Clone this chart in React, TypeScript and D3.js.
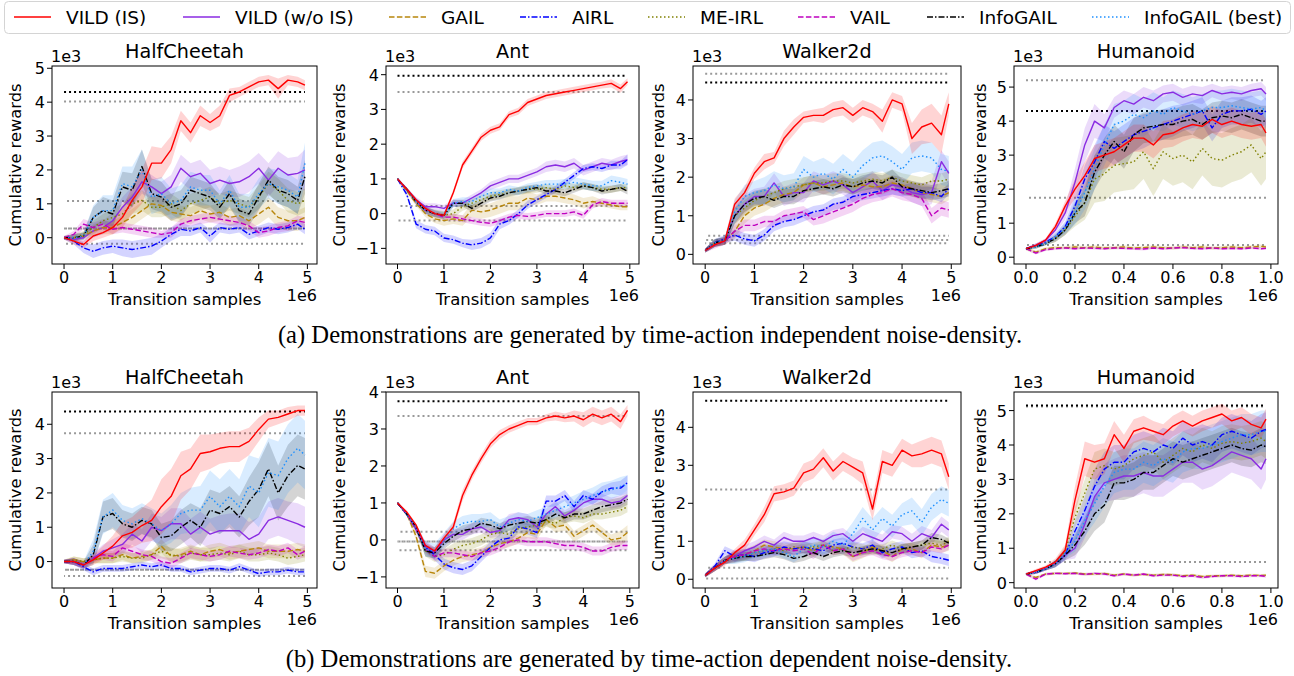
import React from 'react';
import * as d3 from 'd3';

// legend order
const METHODS = ['VILD (IS)', 'VILD (w/o IS)', 'GAIL', 'AIRL', 'ME-IRL', 'VAIL', 'InfoGAIL', 'InfoGAIL (best)'];
const COLORS = ['#ff0000', '#8a2be2', '#b8860b', '#0000ff', '#808000', '#bf00bf', '#000000', '#1e90ff'];
const DASHES = ['', '', '5.5,2.4', '6,2,1.5,2', '1.5,2.5', '5.5,2.4', '6,2,1.5,2', '1.5,2.5'];

const ENVS = ['HalfCheetah', 'Ant', 'Walker2d', 'Humanoid'];

// transition samples (x1e6)
const SAMPLES_5M = [0, 0.2, 0.4, 0.6, 0.8, 1.0, 1.2, 1.4, 1.6, 1.8, 2.0, 2.2, 2.4, 2.6, 2.8, 3.0, 3.2, 3.4, 3.6, 3.8, 4.0, 4.2, 4.4, 4.6, 4.8, 4.95];
const SAMPLES_1M = [0, 0.04, 0.08, 0.12, 0.16, 0.2, 0.24, 0.28, 0.32, 0.36, 0.4, 0.44, 0.48, 0.52, 0.56, 0.6, 0.64, 0.68, 0.72, 0.76, 0.8, 0.84, 0.88, 0.92, 0.96, 0.98];

// ---------- (a) time-action independent noise ----------
const HC_A_MEAN = [
  [0, -0.1, -0.2, 0.05, 0.15, 0.3, 0.6, 1.1, 1.5, 2.2, 2.2, 2.6, 3.45, 3.1, 3.6, 3.4, 3.6, 4.2, 4.3, 4.45, 4.6, 4.65, 4.4, 4.65, 4.6, 4.5],
  [0, -0.05, 0.0, 0.2, 0.3, 0.5, 0.9, 1.2, 1.65, 1.5, 1.3, 1.5, 2.05, 1.8, 1.9, 1.6, 1.7, 1.6, 1.65, 1.8, 2.05, 1.7, 2.05, 1.85, 1.9, 2.0],
  [0, 0.0, 0.05, 0.2, 0.3, 0.3, 0.45, 0.6, 0.8, 1.0, 0.95, 0.75, 0.7, 0.65, 0.8, 0.7, 0.75, 0.6, 0.65, 0.5, 0.7, 0.9, 0.6, 0.5, 0.5, 0.6],
  [0, -0.1, -0.3, -0.4, -0.3, -0.25, -0.3, -0.35, -0.3, -0.25, -0.1, 0.1, 0.25, 0.2, 0.3, 0.05, 0.3, 0.25, 0.3, 0.1, 0.2, 0.3, 0.25, 0.3, 0.4, 0.25],
  [0, 0.0, 0.1, 0.3, 0.5, 0.6, 0.7, 1.0, 1.1, 0.9, 0.9, 1.0, 0.8, 1.0, 1.1, 1.2, 1.0, 1.1, 1.0, 0.9, 1.2, 1.6, 1.4, 1.1, 1.0, 1.1],
  [0, 0.1, 0.4, 0.3, 0.4, 0.25, 0.3, 0.25, 0.2, 0.15, 0.1, 0.15, 0.4, 0.5, 0.55, 0.6, 0.55, 0.5, 0.45, 0.35, 0.15, 0.2, 0.3, 0.35, 0.5, 0.45],
  [0, 0.0, 0.05, 0.6, 0.8, 0.7, 1.5, 1.4, 2.1, 1.3, 1.2, 0.9, 1.0, 1.4, 1.3, 1.2, 0.9, 1.3, 0.8, 0.7, 1.2, 1.7, 1.4, 1.3, 1.1, 1.8],
  [0, 0.0, 0.05, 0.6, 0.8, 0.8, 1.6, 1.5, 2.0, 1.2, 1.3, 1.0, 1.1, 1.5, 1.4, 1.4, 1.0, 1.4, 0.9, 0.9, 1.3, 1.6, 1.5, 1.4, 1.2, 2.2],
];
const HC_A_STD = [
  [0.05, 0.1, 0.1, 0.15, 0.15, 0.2, 0.3, 0.4, 0.5, 0.5, 0.45, 0.4, 0.3, 0.3, 0.3, 0.25, 0.3, 0.2, 0.15, 0.15, 0.15, 0.15, 0.3, 0.15, 0.15, 0.15],
  [0.05, 0.1, 0.15, 0.2, 0.2, 0.25, 0.3, 0.3, 0.35, 0.35, 0.35, 0.35, 0.4, 0.4, 0.4, 0.4, 0.4, 0.4, 0.45, 0.45, 0.45, 0.5, 0.5, 0.5, 0.5, 0.6],
  [0.05, 0.1, 0.1, 0.15, 0.2, 0.2, 0.2, 0.25, 0.25, 0.25, 0.25, 0.25, 0.25, 0.25, 0.25, 0.25, 0.25, 0.25, 0.25, 0.25, 0.3, 0.3, 0.3, 0.3, 0.3, 0.3],
  [0.05, 0.1, 0.15, 0.2, 0.2, 0.2, 0.25, 0.25, 0.25, 0.25, 0.2, 0.2, 0.2, 0.15, 0.15, 0.2, 0.15, 0.15, 0.15, 0.15, 0.15, 0.15, 0.15, 0.15, 0.15, 0.15],
  [0.05, 0.1, 0.1, 0.2, 0.2, 0.25, 0.3, 0.3, 0.3, 0.3, 0.3, 0.3, 0.3, 0.3, 0.3, 0.3, 0.3, 0.3, 0.3, 0.3, 0.35, 0.35, 0.35, 0.35, 0.35, 0.35],
  [0.05, 0.1, 0.15, 0.15, 0.15, 0.15, 0.15, 0.15, 0.15, 0.15, 0.1, 0.15, 0.15, 0.15, 0.15, 0.15, 0.15, 0.15, 0.15, 0.15, 0.15, 0.15, 0.15, 0.15, 0.15, 0.15],
  [0.05, 0.1, 0.1, 0.3, 0.4, 0.4, 0.45, 0.5, 0.5, 0.45, 0.45, 0.4, 0.4, 0.4, 0.4, 0.4, 0.35, 0.4, 0.35, 0.35, 0.4, 0.4, 0.4, 0.4, 0.4, 0.5],
  [0.05, 0.1, 0.1, 0.35, 0.45, 0.45, 0.5, 0.6, 0.6, 0.5, 0.5, 0.45, 0.45, 0.45, 0.45, 0.45, 0.4, 0.45, 0.4, 0.4, 0.45, 0.45, 0.5, 0.5, 0.5, 0.6],
];

const ANT_A_MEAN = [
  [1.0, 0.7, 0.4, 0.15, 0.0, -0.05, 0.6, 1.4, 1.8, 2.2, 2.4, 2.5, 2.85, 2.95, 3.2, 3.3, 3.4, 3.45, 3.5, 3.55, 3.6, 3.65, 3.7, 3.75, 3.6, 3.8],
  [1.0, 0.7, 0.4, 0.2, 0.2, 0.15, 0.3, 0.3, 0.45, 0.6, 0.8, 0.9, 1.0, 1.0, 1.1, 1.2, 1.35, 1.4, 1.35, 1.45, 1.25, 1.35, 1.45, 1.4, 1.5, 1.55],
  [1.0, 0.65, 0.3, 0.0, -0.15, -0.2, -0.15, -0.2, 0.1, 0.05, 0.1, 0.2, 0.3, 0.3, 0.45, 0.4, 0.5, 0.5, 0.45, 0.4, 0.3, 0.35, 0.3, 0.25, 0.2, 0.2],
  [1.0, 0.55, -0.3, -0.45, -0.5, -0.7, -0.75, -0.85, -0.9, -0.85, -0.7, -0.3, -0.2, 0.0, 0.25, 0.4, 0.55, 0.7, 0.9, 1.1, 1.3, 1.35, 1.3, 1.4, 1.4, 1.55],
  [1.0, 0.7, 0.35, 0.1, 0.0, -0.05, 0.0, 0.2, 0.3, 0.4, 0.5, 0.55, 0.6, 0.65, 0.7, 0.7, 0.75, 0.7, 0.8, 0.75, 0.8, 0.75, 0.7, 0.7, 0.75, 0.75],
  [1.0, 0.7, 0.35, 0.1, 0.0, -0.1, -0.1, -0.15, -0.2, -0.25, -0.28, -0.2, -0.1, -0.05, -0.08, -0.05, 0.0, 0.0, 0.0, 0.05, -0.05, 0.25, 0.35, 0.3, 0.3, 0.3],
  [1.0, 0.7, 0.35, 0.1, 0.0, -0.05, 0.3, 0.3, 0.15, 0.3, 0.45, 0.5, 0.6, 0.65, 0.7, 0.75, 0.65, 0.65, 0.6, 0.7, 0.8, 0.75, 0.65, 0.7, 0.75, 0.65],
  [1.0, 0.7, 0.35, 0.1, 0.0, -0.05, 0.3, 0.35, 0.35, 0.5, 0.6, 0.6, 0.7, 0.65, 0.75, 0.8, 0.85, 0.85, 0.85, 0.9, 0.85, 0.8, 0.8, 0.95, 0.9, 0.85],
];
const ANT_A_STD = [
  [0.03, 0.05, 0.05, 0.05, 0.05, 0.05, 0.08, 0.1, 0.1, 0.1, 0.1, 0.1, 0.1, 0.1, 0.1, 0.1, 0.1, 0.1, 0.1, 0.1, 0.1, 0.1, 0.1, 0.12, 0.12, 0.1],
  [0.03, 0.05, 0.08, 0.1, 0.1, 0.1, 0.1, 0.1, 0.1, 0.1, 0.12, 0.12, 0.12, 0.12, 0.12, 0.12, 0.15, 0.15, 0.15, 0.15, 0.15, 0.15, 0.15, 0.15, 0.15, 0.15],
  [0.03, 0.05, 0.08, 0.1, 0.12, 0.15, 0.15, 0.15, 0.2, 0.2, 0.2, 0.2, 0.2, 0.2, 0.2, 0.15, 0.15, 0.15, 0.15, 0.15, 0.15, 0.15, 0.1, 0.1, 0.1, 0.1],
  [0.03, 0.08, 0.12, 0.12, 0.12, 0.12, 0.12, 0.12, 0.15, 0.15, 0.15, 0.15, 0.12, 0.12, 0.12, 0.1, 0.1, 0.1, 0.1, 0.1, 0.1, 0.1, 0.1, 0.12, 0.12, 0.15],
  [0.03, 0.05, 0.08, 0.1, 0.12, 0.12, 0.12, 0.12, 0.12, 0.12, 0.12, 0.12, 0.12, 0.12, 0.12, 0.1, 0.1, 0.1, 0.1, 0.1, 0.1, 0.1, 0.1, 0.1, 0.1, 0.1],
  [0.03, 0.05, 0.08, 0.1, 0.1, 0.1, 0.1, 0.1, 0.1, 0.1, 0.1, 0.1, 0.1, 0.1, 0.1, 0.1, 0.1, 0.1, 0.1, 0.1, 0.1, 0.1, 0.1, 0.1, 0.1, 0.1],
  [0.03, 0.05, 0.08, 0.1, 0.1, 0.1, 0.1, 0.1, 0.1, 0.1, 0.1, 0.1, 0.1, 0.1, 0.1, 0.1, 0.1, 0.1, 0.1, 0.1, 0.1, 0.1, 0.1, 0.1, 0.1, 0.1],
  [0.03, 0.05, 0.08, 0.1, 0.1, 0.1, 0.12, 0.12, 0.12, 0.12, 0.12, 0.12, 0.12, 0.12, 0.12, 0.12, 0.12, 0.12, 0.15, 0.15, 0.15, 0.15, 0.15, 0.15, 0.15, 0.15],
];

const WALK_A_MEAN = [
  [0.1, 0.25, 0.35, 1.3, 1.6, 2.1, 2.4, 2.5, 3.0, 3.3, 3.55, 3.6, 3.6, 3.75, 3.8, 3.6, 3.8, 3.7, 3.45, 4.0, 3.9, 3.0, 3.3, 3.4, 3.1, 3.9],
  [0.1, 0.3, 0.35, 1.0, 1.3, 1.5, 1.5, 1.85, 1.5, 1.6, 1.6, 1.9, 1.8, 1.9, 1.8, 1.6, 1.75, 1.9, 1.65, 1.8, 1.75, 1.6, 1.55, 1.6, 2.4, 2.1],
  [0.1, 0.3, 0.35, 0.6, 1.0, 1.2, 1.3, 1.45, 1.55, 1.6, 1.8, 1.85, 1.75, 1.8, 1.85, 1.75, 1.8, 1.75, 1.75, 1.85, 1.8, 1.7, 1.6, 1.55, 1.5, 1.6],
  [0.1, 0.3, 0.4, 0.5, 0.4, 0.35, 0.5, 0.75, 0.85, 0.9, 1.0, 1.1, 1.15, 1.3, 1.35, 1.5, 1.55, 1.6, 1.65, 1.7, 1.65, 1.7, 1.6, 1.6, 1.5, 1.7],
  [0.1, 0.3, 0.35, 1.0, 1.2, 1.4, 1.5, 1.6, 1.7, 1.75, 1.8, 1.85, 1.85, 1.9, 1.9, 1.85, 1.9, 1.95, 1.9, 2.0, 1.9, 1.85, 1.8, 1.9, 1.9, 1.95],
  [0.1, 0.25, 0.35, 0.6, 0.75, 0.75, 0.85, 0.85, 1.0, 1.05, 1.1, 0.9, 1.0, 1.1, 1.2, 1.3, 1.45, 1.55, 1.6, 1.7, 1.6, 1.55, 1.45, 1.0, 1.2, 1.15],
  [0.1, 0.3, 0.35, 1.0, 1.3, 1.45, 1.5, 1.4, 1.5, 1.5, 1.65, 1.7, 1.75, 1.7, 1.8, 1.75, 1.85, 1.9, 1.85, 2.0, 1.75, 1.7, 1.65, 1.6, 1.65, 1.7],
  [0.1, 0.3, 0.35, 1.1, 1.5, 1.6, 1.65, 1.8, 1.7, 1.75, 2.2, 2.0, 2.1, 1.95, 2.2, 2.0, 2.3, 2.5, 2.55, 2.4, 2.2, 2.5, 2.55, 2.5, 2.2, 2.15],
];
const WALK_A_STD = [
  [0.05, 0.05, 0.1, 0.15, 0.15, 0.15, 0.2, 0.15, 0.2, 0.2, 0.15, 0.15, 0.2, 0.2, 0.2, 0.2, 0.2, 0.2, 0.3, 0.2, 0.2, 0.4, 0.45, 0.5, 0.5, 0.3],
  [0.05, 0.1, 0.1, 0.25, 0.25, 0.2, 0.25, 0.25, 0.25, 0.25, 0.25, 0.25, 0.25, 0.25, 0.25, 0.25, 0.25, 0.25, 0.25, 0.25, 0.25, 0.25, 0.3, 0.3, 0.3, 0.3],
  [0.05, 0.1, 0.1, 0.2, 0.2, 0.2, 0.2, 0.2, 0.2, 0.2, 0.2, 0.2, 0.2, 0.2, 0.2, 0.2, 0.2, 0.2, 0.2, 0.2, 0.2, 0.2, 0.2, 0.2, 0.2, 0.2],
  [0.05, 0.1, 0.1, 0.15, 0.15, 0.15, 0.15, 0.15, 0.15, 0.15, 0.15, 0.15, 0.15, 0.15, 0.15, 0.15, 0.15, 0.15, 0.15, 0.15, 0.15, 0.15, 0.15, 0.15, 0.15, 0.15],
  [0.05, 0.1, 0.1, 0.2, 0.2, 0.2, 0.2, 0.2, 0.2, 0.2, 0.2, 0.2, 0.2, 0.2, 0.2, 0.2, 0.2, 0.2, 0.2, 0.2, 0.2, 0.2, 0.2, 0.2, 0.2, 0.2],
  [0.05, 0.1, 0.1, 0.15, 0.15, 0.15, 0.15, 0.15, 0.15, 0.15, 0.15, 0.15, 0.2, 0.2, 0.2, 0.2, 0.2, 0.2, 0.2, 0.2, 0.2, 0.2, 0.2, 0.2, 0.2, 0.2],
  [0.05, 0.1, 0.1, 0.2, 0.2, 0.2, 0.2, 0.2, 0.2, 0.2, 0.2, 0.2, 0.2, 0.2, 0.2, 0.2, 0.2, 0.2, 0.2, 0.2, 0.2, 0.2, 0.2, 0.2, 0.2, 0.2],
  [0.05, 0.1, 0.1, 0.3, 0.3, 0.3, 0.35, 0.35, 0.35, 0.35, 0.35, 0.4, 0.4, 0.4, 0.4, 0.4, 0.4, 0.4, 0.4, 0.4, 0.4, 0.4, 0.4, 0.4, 0.4, 0.4],
];

const HUM_A_MEAN = [
  [0.25, 0.35, 0.5, 0.9, 1.5, 2.0, 2.4, 2.9, 3.0, 3.1, 3.3, 3.5, 3.5, 3.3, 3.6, 3.65, 3.8, 3.9, 3.85, 4.05, 3.9, 4.0, 3.9, 3.85, 3.9, 3.65],
  [0.25, 0.35, 0.5, 0.8, 1.3, 2.2, 3.3, 4.0, 3.8, 4.4, 4.6, 4.5, 4.7, 4.6, 4.8, 4.85, 4.7, 4.8, 4.75, 4.9, 4.8, 4.85, 4.8, 4.9, 4.95, 4.8],
  [0.25, 0.15, 0.25, 0.28, 0.28, 0.3, 0.28, 0.3, 0.27, 0.28, 0.3, 0.27, 0.28, 0.3, 0.28, 0.27, 0.3, 0.28, 0.3, 0.27, 0.28, 0.3, 0.28, 0.3, 0.32, 0.3],
  [0.25, 0.35, 0.45, 0.6, 0.9, 1.5, 2.3, 2.8, 3.4, 3.2, 3.4, 3.6, 3.7, 3.8, 3.9, 4.0, 4.1, 4.2, 4.3, 3.8, 4.2, 4.3, 4.3, 4.35, 4.2, 4.3],
  [0.25, 0.3, 0.4, 0.55, 0.8, 1.2, 1.6, 2.3, 2.45, 2.7, 2.75, 2.8, 3.1, 2.6, 3.1, 2.9, 3.0, 2.8, 3.2, 2.9, 2.85, 3.0, 3.1, 3.3, 2.9, 3.1],
  [0.25, 0.12, 0.22, 0.25, 0.27, 0.25, 0.27, 0.26, 0.25, 0.27, 0.26, 0.25, 0.24, 0.27, 0.25, 0.27, 0.28, 0.26, 0.25, 0.27, 0.25, 0.26, 0.25, 0.27, 0.25, 0.26],
  [0.25, 0.3, 0.4, 0.55, 0.8, 1.3, 1.6, 2.5, 3.0, 3.4, 3.1, 3.6, 3.8, 3.85, 3.9, 3.9, 4.0, 4.05, 3.9, 4.1, 4.15, 4.1, 4.2, 4.1, 4.0, 4.0],
  [0.25, 0.3, 0.4, 0.6, 0.85, 1.3, 1.9, 2.6, 3.3, 3.9, 4.0, 4.2, 4.1, 4.3, 4.2, 4.4, 4.3, 4.2, 4.3, 4.4, 4.4, 4.45, 4.4, 4.35, 4.4, 4.3],
];
const HUM_A_STD = [
  [0.03, 0.05, 0.05, 0.1, 0.15, 0.3, 0.4, 0.4, 0.4, 0.4, 0.4, 0.4, 0.4, 0.4, 0.4, 0.4, 0.4, 0.4, 0.4, 0.4, 0.4, 0.4, 0.4, 0.4, 0.4, 0.4],
  [0.03, 0.05, 0.05, 0.1, 0.2, 0.4, 0.5, 0.5, 0.4, 0.3, 0.3, 0.3, 0.3, 0.3, 0.25, 0.25, 0.25, 0.25, 0.25, 0.2, 0.2, 0.2, 0.2, 0.2, 0.2, 0.2],
  [0.05, 0.05, 0.05, 0.05, 0.05, 0.05, 0.05, 0.05, 0.05, 0.05, 0.05, 0.05, 0.05, 0.05, 0.05, 0.05, 0.05, 0.05, 0.05, 0.05, 0.05, 0.05, 0.05, 0.05, 0.05, 0.05],
  [0.03, 0.05, 0.05, 0.1, 0.15, 0.3, 0.4, 0.5, 0.5, 0.5, 0.5, 0.5, 0.5, 0.45, 0.45, 0.45, 0.4, 0.4, 0.4, 0.4, 0.4, 0.4, 0.4, 0.4, 0.4, 0.4],
  [0.03, 0.05, 0.05, 0.1, 0.15, 0.3, 0.5, 0.7, 0.8, 0.8, 0.8, 0.8, 0.8, 0.8, 0.8, 0.8, 0.8, 0.8, 0.8, 0.8, 0.8, 0.8, 0.8, 0.8, 0.8, 0.8],
  [0.04, 0.04, 0.04, 0.04, 0.04, 0.04, 0.04, 0.04, 0.04, 0.04, 0.04, 0.04, 0.04, 0.04, 0.04, 0.04, 0.04, 0.04, 0.04, 0.04, 0.04, 0.04, 0.04, 0.04, 0.04, 0.04],
  [0.03, 0.05, 0.05, 0.1, 0.15, 0.3, 0.4, 0.5, 0.5, 0.5, 0.5, 0.5, 0.45, 0.45, 0.45, 0.45, 0.45, 0.45, 0.45, 0.45, 0.45, 0.45, 0.45, 0.45, 0.45, 0.45],
  [0.03, 0.05, 0.05, 0.1, 0.15, 0.35, 0.5, 0.6, 0.6, 0.6, 0.6, 0.6, 0.55, 0.55, 0.5, 0.5, 0.5, 0.5, 0.5, 0.5, 0.5, 0.5, 0.5, 0.5, 0.5, 0.5],
];

// ---------- (b) time-action dependent noise ----------
const HC_B_MEAN = [
  [0, 0.0, -0.1, 0.05, 0.25, 0.45, 0.75, 0.85, 1.05, 1.2, 1.6, 1.9, 2.5, 2.7, 3.15, 3.2, 3.3, 3.35, 3.35, 3.5, 3.85, 4.15, 4.2, 4.3, 4.4, 4.4],
  [0, 0.0, -0.1, 0.1, 0.3, 0.4, 0.5, 0.8, 0.6, 1.0, 0.9, 1.1, 1.1, 0.8, 1.0, 0.8, 0.9, 0.9, 0.9, 0.65, 0.8, 1.2, 1.3, 1.2, 1.1, 1.0],
  [0, 0.05, 0.0, 0.05, 0.1, 0.1, 0.2, 0.1, 0.15, 0.2, 0.45, 0.15, 0.2, 0.3, 0.2, 0.3, 0.35, 0.25, 0.3, 0.35, 0.4, 0.3, 0.3, 0.3, 0.35, 0.3],
  [0, 0.0, -0.15, -0.3, -0.2, -0.2, -0.2, -0.15, -0.1, -0.15, -0.1, -0.2, -0.2, -0.3, -0.25, -0.2, -0.2, -0.25, -0.15, -0.25, -0.35, -0.3, -0.3, -0.25, -0.3, -0.3],
  [0, 0.05, 0.0, 0.05, 0.1, 0.1, 0.15, 0.1, 0.1, 0.2, 0.3, 0.2, 0.15, 0.25, 0.2, 0.2, 0.25, 0.2, 0.3, 0.2, 0.2, 0.25, 0.2, 0.1, 0.15, 0.2],
  [0, 0.0, -0.1, 0.1, 0.2, 0.15, 0.4, 0.3, 0.2, 0.15, 0.0, -0.05, 0.1, 0.25, 0.2, 0.15, 0.2, 0.3, 0.25, 0.2, 0.25, 0.35, 0.3, 0.4, 0.2, 0.3],
  [0, 0.0, -0.1, 0.2, 1.3, 1.4, 1.1, 1.0, 1.2, 1.1, 0.7, 0.75, 1.0, 1.2, 1.0, 1.5, 1.4, 1.6, 1.3, 1.75, 2.1, 2.7, 2.0, 2.5, 2.8, 2.7],
  [0, 0.0, -0.1, 0.3, 1.3, 1.5, 1.2, 1.1, 1.25, 1.1, 0.9, 1.1, 1.4, 1.5, 1.5, 1.9, 1.6, 1.9, 1.6, 2.2, 2.0, 2.6, 2.5, 3.0, 3.3, 3.1],
];
const HC_B_STD = [
  [0.05, 0.1, 0.1, 0.15, 0.2, 0.3, 0.4, 0.45, 0.5, 0.6, 0.8, 0.8, 0.7, 0.6, 0.55, 0.5, 0.45, 0.45, 0.45, 0.4, 0.35, 0.25, 0.2, 0.2, 0.15, 0.15],
  [0.05, 0.1, 0.1, 0.15, 0.2, 0.25, 0.3, 0.3, 0.35, 0.4, 0.4, 0.45, 0.45, 0.45, 0.45, 0.45, 0.45, 0.5, 0.5, 0.5, 0.5, 0.55, 0.55, 0.55, 0.6, 0.6],
  [0.05, 0.1, 0.1, 0.1, 0.15, 0.15, 0.15, 0.15, 0.15, 0.15, 0.2, 0.2, 0.2, 0.2, 0.2, 0.2, 0.2, 0.2, 0.2, 0.2, 0.2, 0.2, 0.2, 0.2, 0.2, 0.2],
  [0.05, 0.1, 0.1, 0.1, 0.1, 0.1, 0.1, 0.1, 0.1, 0.1, 0.1, 0.1, 0.1, 0.1, 0.1, 0.1, 0.1, 0.1, 0.1, 0.1, 0.1, 0.1, 0.1, 0.1, 0.1, 0.1],
  [0.05, 0.1, 0.1, 0.1, 0.15, 0.15, 0.15, 0.15, 0.15, 0.15, 0.2, 0.2, 0.2, 0.2, 0.2, 0.2, 0.2, 0.2, 0.2, 0.2, 0.2, 0.2, 0.2, 0.2, 0.2, 0.2],
  [0.05, 0.1, 0.1, 0.1, 0.15, 0.15, 0.15, 0.15, 0.15, 0.15, 0.15, 0.15, 0.15, 0.15, 0.15, 0.15, 0.15, 0.15, 0.15, 0.15, 0.15, 0.15, 0.15, 0.15, 0.15, 0.15],
  [0.05, 0.1, 0.1, 0.3, 0.45, 0.45, 0.4, 0.4, 0.4, 0.4, 0.4, 0.45, 0.5, 0.5, 0.55, 0.6, 0.6, 0.6, 0.6, 0.7, 0.8, 0.8, 0.8, 0.9, 0.9, 0.9],
  [0.05, 0.1, 0.1, 0.35, 0.5, 0.5, 0.45, 0.45, 0.45, 0.45, 0.5, 0.55, 0.6, 0.65, 0.7, 0.75, 0.8, 0.8, 0.8, 0.9, 1.0, 1.0, 1.0, 1.0, 1.0, 1.0],
];

const ANT_B_MEAN = [
  [1.0, 0.75, 0.4, -0.15, -0.3, 0.05, 0.35, 1.2, 1.75, 2.2, 2.6, 2.85, 3.0, 3.1, 3.2, 3.2, 3.3, 3.35, 3.3, 3.35, 3.25, 3.4, 3.3, 3.4, 3.2, 3.5],
  [1.0, 0.7, 0.3, -0.15, -0.35, 0.0, 0.15, 0.15, 0.3, 0.35, 0.2, 0.25, 0.55, 0.6, 0.55, 0.35, 0.7, 0.9, 0.65, 0.8, 1.0, 1.1, 1.1, 1.0, 1.05, 1.2],
  [1.0, 0.7, 0.1, -0.85, -0.9, -0.7, -0.55, -0.45, -0.4, -0.35, -0.2, -0.1, -0.05, 0.05, 0.2, 0.15, 0.55, 0.35, 0.4, 0.1, 0.25, 0.4, 0.2, 0.0, 0.05, 0.2],
  [1.0, 0.7, 0.3, -0.2, -0.4, -0.65, -0.75, -0.8, -0.7, -0.45, -0.2, 0.0, 0.05, 0.35, 0.3, 0.2, 1.05, 1.05, 1.2, 0.9, 1.2, 1.1, 1.3, 1.4, 1.4, 1.55],
  [1.0, 0.7, 0.3, -0.3, -0.45, -0.4, -0.25, -0.15, -0.1, 0.0, 0.15, 0.2, 0.15, 0.3, 0.35, 0.4, 0.5, 0.45, 0.6, 0.65, 0.6, 0.7, 0.7, 0.75, 0.8, 0.9],
  [1.0, 0.7, 0.3, -0.25, -0.45, -0.35, -0.35, -0.4, -0.45, -0.35, -0.3, -0.2, -0.05, 0.0, -0.05, -0.05, -0.05, -0.1, -0.15, -0.15, -0.2, -0.3, -0.3, -0.2, -0.15, -0.15],
  [1.0, 0.7, 0.35, -0.3, -0.35, -0.1, 0.1, 0.25, 0.3, 0.45, 0.4, 0.3, 0.4, 0.45, 0.5, 0.45, 0.55, 0.7, 0.6, 0.7, 0.7, 0.8, 0.9, 0.95, 1.0, 1.1],
  [1.0, 0.7, 0.35, -0.25, -0.3, 0.0, 0.3, 0.45, 0.5, 0.5, 0.55, 0.35, 0.45, 0.55, 0.5, 0.6, 0.7, 0.8, 0.9, 1.0, 1.1, 1.2, 1.3, 1.35, 1.45, 1.5],
];
const ANT_B_STD = [
  [0.03, 0.05, 0.05, 0.08, 0.1, 0.1, 0.12, 0.15, 0.12, 0.12, 0.12, 0.12, 0.1, 0.1, 0.1, 0.1, 0.1, 0.12, 0.12, 0.15, 0.2, 0.2, 0.2, 0.2, 0.2, 0.15],
  [0.03, 0.05, 0.08, 0.12, 0.15, 0.15, 0.15, 0.15, 0.15, 0.15, 0.15, 0.15, 0.15, 0.15, 0.15, 0.15, 0.15, 0.15, 0.15, 0.15, 0.15, 0.15, 0.15, 0.15, 0.15, 0.15],
  [0.03, 0.05, 0.1, 0.15, 0.15, 0.15, 0.15, 0.15, 0.15, 0.15, 0.15, 0.15, 0.15, 0.15, 0.15, 0.15, 0.15, 0.15, 0.15, 0.15, 0.15, 0.15, 0.15, 0.15, 0.2, 0.2],
  [0.03, 0.05, 0.08, 0.12, 0.15, 0.15, 0.15, 0.15, 0.15, 0.15, 0.15, 0.15, 0.15, 0.15, 0.15, 0.15, 0.15, 0.15, 0.15, 0.15, 0.15, 0.15, 0.15, 0.15, 0.2, 0.2],
  [0.03, 0.05, 0.08, 0.15, 0.15, 0.15, 0.15, 0.15, 0.15, 0.15, 0.15, 0.15, 0.15, 0.15, 0.15, 0.15, 0.15, 0.15, 0.15, 0.15, 0.15, 0.15, 0.15, 0.15, 0.15, 0.15],
  [0.03, 0.05, 0.08, 0.12, 0.12, 0.12, 0.12, 0.12, 0.12, 0.12, 0.12, 0.12, 0.12, 0.12, 0.12, 0.12, 0.12, 0.12, 0.12, 0.12, 0.12, 0.12, 0.12, 0.12, 0.12, 0.12],
  [0.03, 0.05, 0.08, 0.15, 0.15, 0.15, 0.15, 0.15, 0.15, 0.15, 0.15, 0.15, 0.15, 0.15, 0.15, 0.15, 0.15, 0.15, 0.15, 0.15, 0.15, 0.15, 0.15, 0.15, 0.15, 0.15],
  [0.03, 0.05, 0.08, 0.2, 0.2, 0.2, 0.2, 0.2, 0.2, 0.2, 0.2, 0.2, 0.2, 0.2, 0.2, 0.2, 0.2, 0.2, 0.2, 0.2, 0.22, 0.22, 0.25, 0.25, 0.25, 0.25],
];

const WALK_B_MEAN = [
  [0.1, 0.3, 0.45, 0.7, 0.9, 1.3, 1.7, 2.25, 2.3, 2.4, 2.8, 2.9, 3.2, 2.85, 3.1, 2.95, 2.8, 1.85, 3.1, 3.0, 3.4, 3.25, 3.3, 3.4, 3.3, 2.7],
  [0.1, 0.3, 0.5, 0.6, 0.75, 0.85, 1.0, 0.9, 1.1, 1.0, 1.0, 1.1, 1.0, 1.15, 1.2, 1.0, 1.2, 1.1, 1.0, 1.25, 1.2, 1.0, 1.2, 1.1, 1.45, 1.3],
  [0.1, 0.3, 0.5, 0.6, 0.65, 0.75, 0.9, 0.85, 0.8, 0.8, 0.85, 0.75, 0.9, 0.85, 0.8, 0.6, 0.7, 0.85, 0.75, 0.6, 0.8, 0.8, 0.7, 0.9, 0.85, 0.9],
  [0.1, 0.35, 0.75, 0.6, 0.65, 0.6, 0.7, 0.75, 0.85, 0.8, 0.85, 0.8, 0.75, 0.9, 0.95, 0.85, 0.8, 0.9, 0.7, 0.8, 0.85, 0.7, 0.75, 0.6, 0.55, 0.5],
  [0.1, 0.3, 0.5, 0.6, 0.6, 0.7, 0.75, 0.8, 0.75, 0.85, 0.8, 0.85, 0.9, 0.75, 0.8, 0.85, 0.8, 0.75, 0.8, 0.9, 0.8, 0.85, 0.9, 0.95, 0.9, 1.0],
  [0.1, 0.3, 0.5, 0.6, 0.65, 0.75, 0.8, 0.75, 0.8, 0.75, 0.8, 0.65, 0.9, 0.75, 0.8, 0.6, 0.7, 0.75, 0.65, 0.6, 0.7, 0.75, 0.7, 0.85, 0.8, 0.9],
  [0.1, 0.3, 0.5, 0.55, 0.6, 0.6, 0.65, 0.7, 0.65, 0.55, 0.6, 0.7, 0.6, 0.7, 0.75, 0.7, 0.75, 0.8, 0.75, 0.7, 0.8, 0.85, 0.9, 1.1, 1.05, 0.95],
  [0.1, 0.3, 0.5, 0.55, 0.6, 0.7, 0.75, 0.8, 0.7, 0.6, 0.8, 0.9, 0.85, 1.0, 0.9, 1.2, 1.6, 1.3, 1.6, 1.4, 1.7, 1.8, 1.5, 1.9, 2.1, 2.0],
];
const WALK_B_STD = [
  [0.05, 0.08, 0.1, 0.1, 0.15, 0.15, 0.2, 0.2, 0.2, 0.2, 0.25, 0.25, 0.25, 0.25, 0.25, 0.25, 0.3, 0.3, 0.3, 0.3, 0.3, 0.3, 0.35, 0.35, 0.35, 0.35],
  [0.05, 0.08, 0.1, 0.15, 0.15, 0.15, 0.15, 0.15, 0.15, 0.15, 0.15, 0.15, 0.15, 0.15, 0.15, 0.15, 0.18, 0.18, 0.18, 0.18, 0.18, 0.2, 0.2, 0.2, 0.2, 0.2],
  [0.05, 0.08, 0.1, 0.15, 0.15, 0.15, 0.15, 0.15, 0.15, 0.15, 0.15, 0.15, 0.15, 0.15, 0.15, 0.15, 0.15, 0.15, 0.15, 0.15, 0.15, 0.15, 0.15, 0.15, 0.15, 0.15],
  [0.05, 0.08, 0.12, 0.15, 0.15, 0.15, 0.15, 0.15, 0.15, 0.15, 0.15, 0.15, 0.15, 0.15, 0.15, 0.15, 0.15, 0.15, 0.15, 0.15, 0.15, 0.15, 0.15, 0.15, 0.15, 0.15],
  [0.05, 0.08, 0.1, 0.12, 0.12, 0.12, 0.12, 0.12, 0.12, 0.12, 0.12, 0.12, 0.12, 0.12, 0.12, 0.12, 0.12, 0.12, 0.12, 0.12, 0.12, 0.12, 0.12, 0.12, 0.12, 0.12],
  [0.05, 0.08, 0.1, 0.12, 0.12, 0.12, 0.12, 0.12, 0.12, 0.12, 0.12, 0.12, 0.12, 0.12, 0.12, 0.12, 0.12, 0.12, 0.12, 0.12, 0.12, 0.12, 0.12, 0.12, 0.12, 0.12],
  [0.05, 0.08, 0.1, 0.12, 0.12, 0.12, 0.12, 0.12, 0.12, 0.12, 0.12, 0.12, 0.12, 0.12, 0.12, 0.12, 0.12, 0.12, 0.12, 0.12, 0.12, 0.12, 0.12, 0.12, 0.12, 0.12],
  [0.05, 0.08, 0.1, 0.15, 0.15, 0.15, 0.15, 0.15, 0.15, 0.15, 0.2, 0.2, 0.2, 0.25, 0.25, 0.3, 0.3, 0.3, 0.3, 0.3, 0.3, 0.35, 0.35, 0.35, 0.35, 0.35],
];

const HUM_B_MEAN = [
  [0.25, 0.35, 0.45, 0.6, 0.95, 2.4, 3.6, 3.5, 3.6, 4.3, 3.9, 4.4, 4.5, 4.4, 4.3, 4.55, 4.7, 4.55, 4.7, 4.8, 4.9, 4.7, 4.8, 4.6, 4.5, 4.75],
  [0.25, 0.3, 0.4, 0.55, 0.8, 1.0, 1.7, 2.5, 2.9, 3.0, 3.1, 3.1, 3.2, 3.1, 3.1, 3.3, 3.5, 3.5, 3.3, 3.4, 3.6, 3.8, 3.7, 3.6, 3.3, 3.6],
  [0.25, 0.15, 0.25, 0.27, 0.27, 0.28, 0.25, 0.25, 0.27, 0.22, 0.25, 0.22, 0.24, 0.22, 0.24, 0.23, 0.2, 0.22, 0.18, 0.2, 0.2, 0.22, 0.2, 0.22, 0.21, 0.22],
  [0.25, 0.3, 0.4, 0.55, 0.8, 1.5, 2.1, 2.8, 3.3, 3.5, 3.5, 3.8, 3.9, 3.8, 4.0, 3.9, 4.2, 4.0, 4.1, 4.0, 4.3, 4.4, 4.3, 4.2, 4.4, 4.45],
  [0.25, 0.3, 0.4, 0.55, 0.9, 1.9, 2.6, 3.3, 3.4, 3.3, 3.4, 3.6, 3.7, 3.8, 3.5, 3.7, 3.9, 3.8, 4.0, 3.9, 4.05, 4.1, 4.05, 4.1, 4.2, 4.1],
  [0.25, 0.1, 0.25, 0.27, 0.26, 0.27, 0.24, 0.27, 0.25, 0.2, 0.25, 0.22, 0.25, 0.2, 0.22, 0.22, 0.18, 0.2, 0.15, 0.18, 0.2, 0.2, 0.18, 0.2, 0.2, 0.18],
  [0.25, 0.3, 0.4, 0.55, 0.8, 1.1, 1.5, 2.0, 2.25, 2.9, 2.9, 3.0, 3.2, 3.2, 3.4, 3.6, 3.5, 3.6, 3.7, 3.8, 3.9, 4.0, 3.9, 3.85, 4.0, 3.95],
  [0.25, 0.3, 0.4, 0.55, 0.85, 1.2, 1.8, 2.3, 2.8, 3.2, 3.3, 3.3, 3.5, 3.4, 3.6, 3.5, 3.8, 3.9, 3.9, 4.0, 4.1, 4.2, 4.3, 4.3, 4.4, 4.4],
];
const HUM_B_STD = [
  [0.03, 0.05, 0.05, 0.1, 0.15, 0.4, 0.5, 0.5, 0.45, 0.4, 0.4, 0.35, 0.35, 0.3, 0.3, 0.3, 0.3, 0.3, 0.3, 0.3, 0.3, 0.3, 0.3, 0.3, 0.3, 0.3],
  [0.03, 0.05, 0.05, 0.1, 0.15, 0.3, 0.4, 0.5, 0.55, 0.6, 0.6, 0.6, 0.6, 0.6, 0.6, 0.6, 0.6, 0.6, 0.6, 0.6, 0.6, 0.6, 0.6, 0.6, 0.6, 0.6],
  [0.04, 0.04, 0.04, 0.04, 0.04, 0.04, 0.04, 0.04, 0.04, 0.04, 0.04, 0.04, 0.04, 0.04, 0.04, 0.04, 0.04, 0.04, 0.04, 0.04, 0.04, 0.04, 0.04, 0.04, 0.04, 0.04],
  [0.03, 0.05, 0.05, 0.1, 0.15, 0.3, 0.4, 0.5, 0.5, 0.5, 0.5, 0.5, 0.5, 0.5, 0.5, 0.5, 0.5, 0.5, 0.5, 0.5, 0.5, 0.5, 0.5, 0.5, 0.5, 0.5],
  [0.03, 0.05, 0.05, 0.1, 0.15, 0.3, 0.4, 0.5, 0.5, 0.5, 0.5, 0.5, 0.5, 0.5, 0.5, 0.5, 0.5, 0.5, 0.5, 0.5, 0.5, 0.5, 0.5, 0.5, 0.5, 0.5],
  [0.04, 0.04, 0.04, 0.04, 0.04, 0.04, 0.04, 0.04, 0.04, 0.04, 0.04, 0.04, 0.04, 0.04, 0.04, 0.04, 0.04, 0.04, 0.04, 0.04, 0.04, 0.04, 0.04, 0.04, 0.04, 0.04],
  [0.03, 0.05, 0.05, 0.1, 0.15, 0.3, 0.4, 0.5, 0.5, 0.5, 0.5, 0.5, 0.5, 0.5, 0.5, 0.5, 0.5, 0.5, 0.5, 0.5, 0.5, 0.5, 0.5, 0.5, 0.5, 0.5],
  [0.03, 0.05, 0.05, 0.1, 0.15, 0.3, 0.45, 0.55, 0.6, 0.6, 0.6, 0.6, 0.6, 0.6, 0.6, 0.6, 0.6, 0.6, 0.6, 0.6, 0.6, 0.6, 0.6, 0.6, 0.6, 0.6],
];

// horizontal reference levels (x1e3): expert (black) and demonstrators (gray)
const EXPERT_A = [4.3, 3.97, 4.45, 4.3];
const DEMOS_A = [[4.02, 1.08, 0.27, 0.27, -0.18], [3.5, 0.22, -0.2], [4.68, 0.48, 0.37, 0.29], [5.2, 1.75, 0.36]];
const EXPERT_B = [4.37, 3.75, 4.7, 5.15];
const DEMOS_B = [[3.74, -0.24, -0.24, -0.42], [3.35, 0.22, -0.04, -0.04, -0.28], [2.36, 0.3, 0.02], [5.12, 0.6]];

// axis limits and ticks
const Y_LIM_A = [[-0.776, 5.067], [-1.45, 4.25], [-0.25, 4.88], [-0.2, 5.62]];
const Y_LIM_B = [[-0.77, 4.94], [-1.3, 4.0], [-0.23, 4.93], [-0.155, 5.54]];
const Y_TICKS_A = [[0, 1, 2, 3, 4, 5], [-1, 0, 1, 2, 3, 4], [0, 1, 2, 3, 4], [0, 1, 2, 3, 4, 5]];
const Y_TICKS_B = [[0, 1, 2, 3, 4], [-1, 0, 1, 2, 3, 4], [0, 1, 2, 3, 4], [0, 1, 2, 3, 4, 5]];
const X_TICKS_5M = [0, 1, 2, 3, 4, 5];
const X_TICKS_1M = [0, 0.2, 0.4, 0.6, 0.8, 1.0];

const CAPTION_A = '(a) Demonstrations are generated by time-action independent noise-density.';
const CAPTION_B = '(b) Demonstrations are generated by time-action dependent noise-density.';

const FONT = 'DejaVu Sans, sans-serif';
const COLS = [
  { l: 52, r: 317, lab: 15 },
  { l: 386, r: 639, lab: 339 },
  { l: 693, r: 961, lab: 658 },
  { l: 1014, r: 1278, lab: 980 },
];
const ROWS = [{ t: 66, b: 264 }, { t: 392, b: 588 }];
const LEGEND_X = [14, 183, 389, 520, 648, 798, 927, 1092];
const DRAW_ORDER = [1, 2, 3, 4, 5, 6, 7, 0];

function Panel({ id, col, row, title, xs, mean, std, yLim, yTicks, expert, demos }) {
  const { l, r, lab } = COLS[col];
  const { t, b } = ROWS[row];
  const short = col === 3;
  const xEnd = xs[xs.length - 1];
  const x = d3.scaleLinear().domain([-0.05 * xEnd, 1.05 * xEnd]).range([l, r]);
  const y = d3.scaleLinear().domain(yLim).range([b, t]);
  const xTicks = short ? X_TICKS_1M : X_TICKS_5M;
  const xFmt = short ? d3.format('.1f') : d3.format('d');
  const yFmt = d3.format('d');

  const line = d3.line<number>().x((_, i) => x(xs[i])).y(d => y(d));
  const band = (m: number[], s: number[]) =>
    d3.area<number>().x((_, i) => x(xs[i])).y0((d, i) => y(d - s[i])).y1((d, i) => y(d + s[i]))(m) || '';

  const cx = (l + r) / 2;
  const cy = (t + b) / 2;
  return (
    <g fontFamily={FONT}>
      <defs>
        <clipPath id={id}>
          <rect x={l} y={t} width={r - l} height={b - t} />
        </clipPath>
      </defs>
      <g clipPath={`url(#${id})`}>
        {demos.map((v, i) => (
          <line key={'d' + i} x1={x(0)} x2={x(xEnd)} y1={y(v)} y2={y(v)} stroke="#999" strokeWidth={2}
            strokeDasharray="2,3" strokeDashoffset={i * 2} />
        ))}
        <line x1={x(0)} x2={x(xEnd)} y1={y(expert)} y2={y(expert)} stroke="#000" strokeWidth={2} strokeDasharray="2,3" />
        {DRAW_ORDER.map(k => (
          <path key={'b' + k} d={band(mean[k], std[k])} fill={COLORS[k]} fillOpacity={0.17} stroke="none" />
        ))}
        {DRAW_ORDER.map(k => (
          <path key={'l' + k} d={line(mean[k]) || ''} fill="none" stroke={COLORS[k]} strokeWidth={1.4}
            strokeDasharray={DASHES[k] || undefined} strokeLinejoin="round" />
        ))}
      </g>
      <rect x={l} y={t} width={r - l} height={b - t} fill="none" stroke="#000" strokeWidth={1} />
      {xTicks.map(v => (
        <g key={'xt' + v}>
          <line x1={x(v)} x2={x(v)} y1={b} y2={b + 5} stroke="#000" />
          <text x={x(v)} y={b + 19} textAnchor="middle" fontSize={16}>{xFmt(v)}</text>
        </g>
      ))}
      {yTicks.map(v => (
        <g key={'yt' + v}>
          <line x1={l - 5} x2={l} y1={y(v)} y2={y(v)} stroke="#000" />
          <text x={l - 7} y={y(v) + 6} textAnchor="end" fontSize={16}>{yFmt(v)}</text>
        </g>
      ))}
      <text x={cx} y={t - 8} textAnchor="middle" fontSize={19.2}>{title}</text>
      <text x={l - 1} y={t - 4} fontSize={16}>1e3</text>
      <text x={r} y={b + 37} textAnchor="end" fontSize={16}>1e6</text>
      <text x={cx} y={b + 41} textAnchor="middle" fontSize={16.5}>Transition samples</text>
      <text transform={`translate(${lab},${cy}) rotate(-90)`} textAnchor="middle" dominantBaseline="central" fontSize={16.3}>
        Cumulative rewards
      </text>
    </g>
  );
}

export default function App() {
  const rowA = [HC_A_MEAN, ANT_A_MEAN, WALK_A_MEAN, HUM_A_MEAN];
  const rowAStd = [HC_A_STD, ANT_A_STD, WALK_A_STD, HUM_A_STD];
  const rowB = [HC_B_MEAN, ANT_B_MEAN, WALK_B_MEAN, HUM_B_MEAN];
  const rowBStd = [HC_B_STD, ANT_B_STD, WALK_B_STD, HUM_B_STD];
  return (
    <svg width={1294} height={676} style={{ position: 'absolute', left: 0, top: 0, background: '#fff' }}>
      <rect x={0} y={0} width={1294} height={676} fill="#fff" />
      {/* legend */}
      <rect x={4.5} y={1.5} width={1286} height={32} rx={4} fill="#fff" stroke="#d4d4d4" />
      {METHODS.map((name, k) => (
        <g key={name}>
          <line x1={LEGEND_X[k]} x2={LEGEND_X[k] + 37} y1={17} y2={17} stroke={COLORS[k]} strokeWidth={1.5}
            strokeDasharray={DASHES[k] || undefined} />
          <text x={LEGEND_X[k] + 52} y={24} fontSize={18.5} fontFamily={FONT}>{name}</text>
        </g>
      ))}
      {ENVS.map((env, c) => (
        <Panel key={'a' + c} id={'clipA' + c} col={c} row={0} title={env}
          xs={c === 3 ? SAMPLES_1M : SAMPLES_5M} mean={rowA[c]} std={rowAStd[c]}
          yLim={Y_LIM_A[c]} yTicks={Y_TICKS_A[c]} expert={EXPERT_A[c]} demos={DEMOS_A[c]} />
      ))}
      {ENVS.map((env, c) => (
        <Panel key={'b' + c} id={'clipB' + c} col={c} row={1} title={env}
          xs={c === 3 ? SAMPLES_1M : SAMPLES_5M} mean={rowB[c]} std={rowBStd[c]}
          yLim={Y_LIM_B[c]} yTicks={Y_TICKS_B[c]} expert={EXPERT_B[c]} demos={DEMOS_B[c]} />
      ))}
      <text x={650} y={343} textAnchor="middle" fontSize={24.6} fontFamily="Liberation Serif, serif">{CAPTION_A}</text>
      <text x={649} y={667} textAnchor="middle" fontSize={24.6} fontFamily="Liberation Serif, serif">{CAPTION_B}</text>
    </svg>
  );
}
